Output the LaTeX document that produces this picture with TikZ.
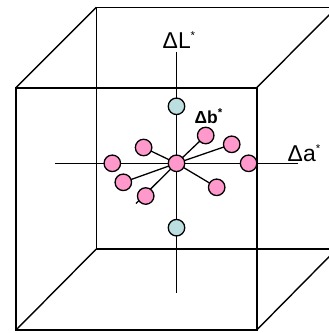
\documentclass[tikz,border=0pt]{standalone}
\usepackage{fontspec}
\setmainfont{Liberation Sans}
\usetikzlibrary{backgrounds}
\definecolor{pinkball}{RGB}{255,153,204}
\definecolor{blueball}{RGB}{187,223,225}
\tikzset{
  frontedge/.style={line width=2.2pt},
  backedge/.style={line width=1.4pt},
  axisline/.style={line width=1.6pt},
  spoke/.style={line width=1.3pt},
  ball/.style={circle, draw=black, line width=1.3pt, minimum size=16.5bp, inner sep=0pt},
  pinkb/.style={ball, fill=pinkball},
  blueb/.style={ball, fill=blueball},
  axlabel/.style={anchor=base west, inner sep=0pt, font=\fontsize{23}{23}\selectfont},
  smlabel/.style={anchor=base west, inner sep=0pt, font=\fontsize{17.5}{17.5}\selectfont\bfseries},
}
\newcommand{\astsup}{\raisebox{0.4em}{\fontsize{11.5}{11.5}\selectfont *}}
\begin{document}
\begin{tikzpicture}[x=1bp,y=-1bp]
\clip (0,0) rectangle (329,333);
% cube
\draw[backedge] (96.3,7.3) rectangle (336.7,249);
\draw[backedge] (16,87.7) -- (96.3,7.3);
\draw[backedge] (256.7,87.7) -- (336.7,7.3);
\draw[backedge] (16,330) -- (96.3,249);
\draw[backedge] (256.7,330) -- (336.7,249);
\draw[frontedge] (16,87.7) rectangle (256.7,330);
% axes end points
\coordinate (axW) at (55,163.3);
\coordinate (axE) at (297.7,163.3);
\coordinate (axN) at (176.5,51.7);
\coordinate (axS) at (176.5,293.3);
\coordinate (spokeEnd) at (136,203.5);
\draw[axisline] (axW) -- (axE);
\draw[axisline] (axN) -- (axS);
% balls
\node[pinkb] (c) at (176.5,163.3) {};
\node[pinkb] (pl) at (112.3,163.3) {};
\node[pinkb] (pr) at (248.6,163.3) {};
\node[pinkb] (pul) at (143.6,147.5) {};
\node[pinkb] (pll) at (123.3,182.3) {};
\node[pinkb] (pd) at (145.7,196) {};
\node[pinkb] (pdr) at (216.7,187.3) {};
\node[pinkb] (pur) at (205.7,135.5) {};
\node[pinkb] (pru) at (231.7,144.3) {};
\node[blueb] (bt) at (176.5,106.3) {};
\node[blueb] (bb) at (176.5,227.7) {};
\begin{scope}[on background layer]
\draw[spoke] (c.center) -- (pul.center);
\draw[spoke] (c.center) -- (pll.center);
\draw[spoke] (c.center) -- (spokeEnd);
\draw[spoke] (c.center) -- (pdr.center);
\draw[spoke] (c.center) -- (pur.center);
\draw[spoke] (c.center) -- (pru.center);
\end{scope}
% labels
\node[axlabel] (lL) at (162.5,48.3) {ΔL\astsup};
\node[axlabel] (la) at (287.5,161.7) {Δa\astsup};
\node[smlabel] (lb) at (194.5,123.3) {Δb\astsup};
\end{tikzpicture}
\end{document}
